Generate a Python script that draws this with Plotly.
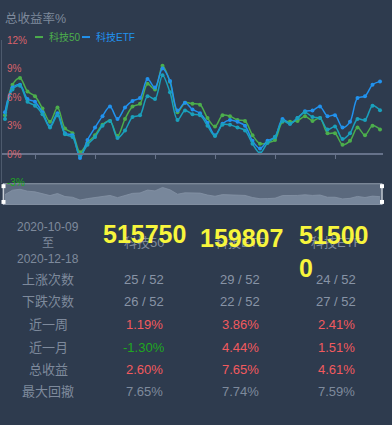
import plotly.graph_objects as go

# ---------------- data ----------------
dates = [
    "2020-10-09", "2020-10-12", "2020-10-13", "2020-10-14", "2020-10-15", "2020-10-16",
    "2020-10-19", "2020-10-20", "2020-10-21", "2020-10-22", "2020-10-23",
    "2020-10-26", "2020-10-27", "2020-10-28", "2020-10-29", "2020-10-30",
    "2020-11-02", "2020-11-03", "2020-11-04", "2020-11-05", "2020-11-06",
    "2020-11-09", "2020-11-10", "2020-11-11", "2020-11-12", "2020-11-13",
    "2020-11-16", "2020-11-17", "2020-11-18", "2020-11-19", "2020-11-20",
    "2020-11-23", "2020-11-24", "2020-11-25", "2020-11-26", "2020-11-27",
    "2020-11-30", "2020-12-01", "2020-12-02", "2020-12-03", "2020-12-04",
    "2020-12-07", "2020-12-08", "2020-12-09", "2020-12-10", "2020-12-11",
    "2020-12-14", "2020-12-15", "2020-12-16", "2020-12-17", "2020-12-18",
]

names = ["科技50", "科技ETF", "科技ETF"]
codes = ["515750", "159807", "515000"]

tech50 = [4.1, 7.3, 8.0, 6.6, 6.1, 4.8, 3.4, 4.9, 2.7, 2.2, 0.2,
          1.2, 2.0, 3.1, 3.5, 1.9, 3.7, 5.0, 5.3, 7.4, 6.8,
          9.3, 7.6, 4.4, 5.4, 5.3, 5.2, 3.8, 2.9, 4.1, 4.0,
          3.6, 3.5, 2.0, 1.1, 1.2, 1.5, 3.4, 3.4, 3.5, 4.0,
          3.5, 3.8, 2.2, 2.2, 1.0, 1.4, 2.8, 2.0, 3.0, 2.6]
etf159807 = [4.4, 7.0, 7.3, 5.8, 5.5, 4.4, 2.9, 4.3, 2.2, 2.0, -0.4,
             1.5, 2.8, 4.0, 5.0, 3.7, 4.9, 5.6, 5.9, 7.9, 7.0,
             9.0, 7.7, 4.6, 5.4, 4.7, 4.3, 3.3, 2.0, 3.2, 3.6,
             3.4, 3.0, 1.4, 0.6, 1.4, 1.8, 3.7, 3.2, 3.8, 4.5,
             4.6, 5.0, 4.0, 4.1, 2.8, 3.4, 5.9, 6.1, 7.3, 7.65]
etf515000 = [3.7, 6.8, 7.2, 5.5, 5.1, 4.2, 2.8, 4.1, 2.1, 1.8, -0.1,
             1.0, 1.8, 3.0, 3.5, 1.7, 2.5, 3.9, 4.1, 6.1, 5.8,
             8.3, 6.5, 3.6, 4.6, 4.2, 4.1, 3.0, 1.9, 3.1, 3.1,
             2.8, 2.5, 1.1, 0.1, 1.2, 1.8, 3.5, 3.2, 3.8, 4.4,
             3.9, 3.8, 2.6, 2.9, 1.6, 2.2, 3.7, 3.6, 5.1, 4.61]

y_ticks = [-3, 0, 3, 6, 9, 12]

row_labels = ["上涨次数", "下跌次数", "近一周", "近一月", "总收益", "最大回撤"]
up_count = ["25 / 52", "29 / 52", "24 / 52"]
down_count = ["26 / 52", "22 / 52", "27 / 52"]
week_ret = [1.19, 3.86, 2.41]
month_ret = [-1.30, 4.44, 1.51]
total_ret = [2.60, 7.65, 4.61]
max_dd = [7.65, 7.74, 7.59]
period = ["2020-10-09", "至", "2020-12-18"]

# ---------------- styling ----------------
BG = "#2e3b4e"
GREEN = "#4cae4c"
BLUE = "#2192ee"
TEAL = "#1aa0bc"
GRAY = "#7e8a9c"
RED = "#f25a5e"
NEG = "#1fa81f"
TICKRED = "#d9636c"
FONT = "Liberation Sans, Noto Sans CJK SC, sans-serif"

W, H = 392, 425
L, R, T, B = 2, 9, 40, 0


def fx(px):
    return (px - L) / (W - L - R)


def fy(py):
    return (H - B - py) / (H - T - B)


fig = go.Figure()

series = [(tech50, GREEN, names[0]),
          (etf159807, BLUE, names[1]),
          (etf515000, TEAL, names[2])]
for vals, col, nm in series:
    fig.add_trace(go.Scatter(
        x=dates, y=vals, name=nm, mode="lines+markers",
        line=dict(color=col, width=1.5, shape="spline", smoothing=0.9),
        marker=dict(color=col, size=4),
        showlegend=False, xaxis="x", yaxis="y",
    ))

# slider mini area (data-zoom look)
fig.add_trace(go.Scatter(x=dates, y=[y_ticks[0]] * len(dates), mode="lines",
                         line=dict(width=0), showlegend=False, hoverinfo="skip",
                         xaxis="x2", yaxis="y2"))
fig.add_trace(go.Scatter(x=dates, y=tech50, mode="lines", fill="tonexty",
                         fillcolor="#78879b", line=dict(color="#8593a6", width=0.8),
                         showlegend=False, hoverinfo="skip",
                         xaxis="x2", yaxis="y2"))


def tick_txt(v):
    c = NEG if v < 0 else TICKRED
    return f'<span style="color:{c}">{v}%</span>'


fig.update_layout(
    width=W, height=H, autosize=False,
    margin=dict(l=L, r=R, t=T, b=B),
    paper_bgcolor=BG, plot_bgcolor=BG,
    font=dict(family=FONT, color=GRAY, size=12),
    xaxis=dict(type="category", range=[-0.4, len(dates) - 1 + 0.4],
               domain=[0, 1], anchor="free", position=fy(156),
               showgrid=False, zeroline=False, showline=True,
               linecolor="#66728a", linewidth=1.5,
               ticks="outside", ticklen=4, tickcolor="#66728a",
               tickvals=dates[4::8], showticklabels=False),
    yaxis=dict(range=[y_ticks[0], y_ticks[-1]], domain=[fy(185), 1],
               anchor="x", showgrid=False, zeroline=False,
               showline=True, linecolor="#4d5a6d", linewidth=1,
               tickvals=y_ticks, ticktext=[tick_txt(v) for v in y_ticks],
               ticklabelposition="inside", ticklabeloverflow="allow",
               ticklabelstandoff=4,
               ticks="", tickfont=dict(size=10, color=TICKRED)),
    xaxis2=dict(type="category", range=[-0.4, len(dates) - 1 + 0.4],
                domain=[0, 1], anchor="y2", visible=False),
    yaxis2=dict(range=[y_ticks[0], y_ticks[-1]], domain=[fy(207), fy(186)],
                anchor="x2", visible=False),
    showlegend=False,
)

shapes = []
# slider box
shapes.append(dict(type="rect", xref="paper", yref="paper",
                   x0=fx(3), x1=fx(382), y0=fy(207), y1=fy(186),
                   fillcolor="#5b697d", line=dict(color="#8d99a9", width=1),
                   layer="below"))
for hx in (3.5, 382):
    shapes.append(dict(type="line", xref="paper", yref="paper",
                       x0=fx(hx), x1=fx(hx), y0=fy(207), y1=fy(186),
                       line=dict(color="#c8ced6", width=1.2), layer="above"))
    for hy in (188.5, 204.5):
        shapes.append(dict(type="rect", xref="paper", yref="paper",
                           x0=fx(hx - 2), x1=fx(hx + 2), y0=fy(hy + 2), y1=fy(hy - 2),
                           fillcolor="#ffffff", line=dict(color="#ffffff", width=0),
                           layer="above"))
# legend line symbols
shapes.append(dict(type="line", xref="paper", yref="paper",
                   x0=fx(35), x1=fx(43), y0=fy(37), y1=fy(37),
                   line=dict(color=GREEN, width=2)))
shapes.append(dict(type="line", xref="paper", yref="paper",
                   x0=fx(82), x1=fx(90), y0=fy(37), y1=fy(37),
                   line=dict(color=BLUE, width=2)))

ann = []


def add_text(px, py, text, color=GRAY, size=13, xanchor="center", yanchor="middle"):
    ann.append(dict(xref="paper", yref="paper", x=fx(px), y=fy(py), text=text,
                    showarrow=False, xanchor=xanchor, yanchor=yanchor, align="center",
                    font=dict(color=color, size=size,
                              family="Liberation Sans, Noto Sans CJK SC")))


# title and legend
add_text(3, 18, "总收益率%", color=GRAY, size=12.5, xanchor="left")
add_text(47, 37, names[0], color=GREEN, size=10, xanchor="left")
add_text(94, 37, names[1], color=BLUE, size=10, xanchor="left")

# table
cols_x = [144, 240, 336]
label_x = 48
add_text(label_x, 230, period[0], size=12)
add_text(label_x, 246, period[1], size=12)
add_text(label_x, 262, period[2], size=12)
for cx, nm in zip(cols_x, names):
    add_text(cx, 246, nm, size=13)

rows_y = [283, 306, 329, 352, 374.5, 397]
for ry, lab in zip(rows_y, row_labels):
    add_text(label_x, ry, lab, size=13)


def pct_color(v):
    return NEG if v < 0 else RED


for i, cx in enumerate(cols_x):
    add_text(cx, rows_y[0], up_count[i], size=13, color="#8894a6")
    add_text(cx, rows_y[1], down_count[i], size=13, color="#8894a6")
    add_text(cx, rows_y[2], f"{week_ret[i]:.2f}%", size=13, color=pct_color(week_ret[i]))
    add_text(cx, rows_y[3], f"{month_ret[i]:.2f}%", size=13, color=pct_color(month_ret[i]))
    add_text(cx, rows_y[4], f"{total_ret[i]:.2f}%", size=13, color=pct_color(total_ret[i]))
    add_text(cx, rows_y[5], f"{max_dd[i]:.2f}%", size=13, color="#7e8a9c")

# yellow code overlays (they sit over the column headers, as in the reference)
YEL = "#f7f53c"
ann.append(dict(xref="paper", yref="paper", x=fx(144), y=fy(237), text=f"<b>{codes[0]}</b>",
                showarrow=False, xanchor="center", yanchor="middle",
                font=dict(color=YEL, size=25, family="Liberation Sans, sans-serif")))
ann.append(dict(xref="paper", yref="paper", x=fx(241.5), y=fy(241), text=f"<b>{codes[1]}</b>",
                showarrow=False, xanchor="center", yanchor="middle",
                font=dict(color=YEL, size=25, family="Liberation Sans, sans-serif")))
ann.append(dict(xref="paper", yref="paper", x=fx(297), y=fy(222),
                text=f"<b>{codes[2][:5]}<br>{codes[2][5:]}</b>",
                showarrow=False, xanchor="left", yanchor="top", align="left",
                font=dict(color=YEL, size=25, family="Liberation Sans, sans-serif")))

fig.update_layout(shapes=shapes, annotations=ann)

fig.write_html("out.html")
